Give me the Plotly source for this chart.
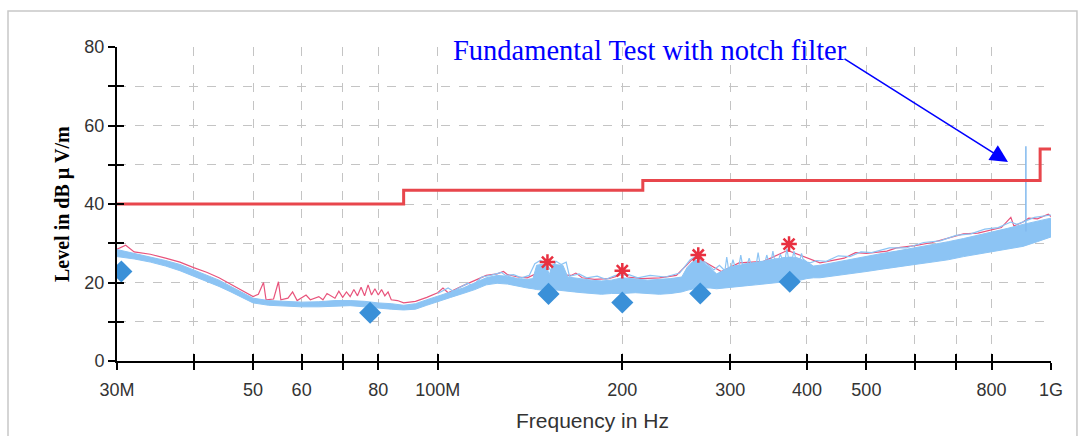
import math
import plotly.graph_objects as go

# ---------------- data (frequencies in MHz, levels in dBuV/m) ----------------
limit_f = [30, 88, 216, 960, 1000]
limit_L = [40, 43.5, 46, 54, 54]

band_f = [30, 32, 34, 36, 38, 40, 42, 44, 46, 48, 50, 53, 56, 60, 64, 68, 72, 76, 80, 84,
          88, 92, 96, 100, 105, 110, 115, 120, 125, 130, 135, 140, 143, 145, 150, 152, 154,
          160, 163, 167, 172, 178, 185, 192, 200, 210, 220, 230, 240, 250, 255, 260, 265,
          270, 278, 285, 292, 300, 310, 320, 330, 340, 350, 360, 370, 380, 390, 400,
          410, 420, 440, 460, 480, 500, 530, 560, 600, 640, 680, 720, 760, 800, 850, 900,
          950, 1000]
band_hi = [28.4, 27.4, 26.6, 25.6, 24.6, 23.2, 22.0, 20.6, 19.0, 17.4, 16.0, 15.4, 15.2, 15.0,
           15.1, 15.4, 15.4, 15.2, 14.8, 14.6, 14.2, 14.6, 15.6, 16.6, 17.6, 18.6, 20.0, 21.2,
           21.8, 21.6, 21.0, 20.8, 21.0, 24.4, 24.8, 22.0, 24.6, 24.4, 21.4, 21.2, 20.8, 20.6,
           20.4, 20.6, 21.2, 20.8, 20.6, 20.8, 21.0, 21.4, 23.8, 25.2, 25.8, 25.4, 23.8, 22.2,
           23.0, 24.0, 24.4, 24.8, 25.0, 25.4, 25.8, 26.0, 26.4, 26.4, 26.0, 25.2,
           24.2, 24.4, 25.0, 25.6, 26.2, 26.8, 27.4, 28.0, 28.8, 29.6, 30.4, 31.2, 32.0, 32.8,
           33.8, 34.8, 35.6, 36.4]
band_lo = [26.6, 26.0, 25.2, 24.2, 23.0, 21.6, 20.4, 19.0, 17.6, 16.1, 14.8, 14.2, 14.0, 13.8,
           13.8, 14.0, 14.1, 13.8, 13.4, 13.2, 13.0, 13.2, 14.2, 15.2, 16.2, 17.2, 18.2, 19.4,
           19.8, 19.6, 19.0, 18.6, 18.4, 18.2, 18.0, 18.0, 18.2, 18.0, 17.8, 17.6, 17.4, 17.2,
           17.0, 17.2, 17.2, 17.4, 17.2, 17.0, 17.2, 17.6, 18.0, 18.4, 18.6, 18.6, 18.6, 18.4,
           18.6, 18.8, 19.0, 19.2, 19.4, 19.6, 19.8, 20.0, 20.2, 20.4, 20.6, 21.0,
           21.2, 21.2, 21.6, 22.0, 22.4, 22.8, 23.4, 24.0, 24.6, 25.2, 25.8, 26.6, 27.2, 27.8,
           28.6, 29.2, 30.4, 31.6]

# light-blue spiky top of the measured trace
blue_pk_f = [100, 104, 106, 112, 114, 118, 122, 127, 129, 133, 137, 141, 144, 147, 150, 153,
             156, 159, 162, 164, 170, 175, 182, 188, 195, 205, 212, 222, 235, 248, 258, 263,
             268, 275, 282, 288,
             294, 296, 298, 301, 303, 305, 310, 312, 314, 320, 322, 324, 331, 333, 335,
             342, 344, 346, 350, 352, 354, 360, 362, 364, 369, 371, 373, 379, 381, 383,
             390, 392, 394, 400,
             405, 415, 430, 450, 470, 490, 510, 545, 580, 620, 660, 700, 740, 780, 820, 860,
             880, 940, 980, 1000]
blue_pk_L = [17.2, 18.6, 17.8, 19.8, 19.2, 21.4, 21.8, 22.6, 21.8, 22.0, 21.2, 21.8, 24.8,
             25.6, 25.0, 23.0, 25.4, 24.6, 25.2, 21.6, 22.2, 21.2, 21.6, 20.8, 21.8, 22.0,
             21.2, 21.8, 21.4, 22.4, 25.8, 26.6, 26.2, 24.8, 23.2, 24.4,
             23.0, 26.5, 23.4, 24.0, 25.8, 24.2, 24.4, 27.0, 24.6, 24.8, 26.2, 24.8,
             25.0, 27.6, 25.2, 25.4, 27.0, 25.6, 25.8, 28.0, 26.0, 26.0, 27.2, 26.2,
             26.4, 28.6, 26.4, 26.4, 28.0, 26.4, 26.0, 27.4, 26.0, 25.2,
             25.0, 25.6, 25.4, 26.8, 26.6, 27.8, 27.6, 28.8, 28.8, 30.2, 30.6, 32.0, 32.4,
             33.6, 34.0, 35.4, 34.8, 36.6, 37.0, 37.2]

# pink peak trace
peak_f = [30, 31, 32, 34, 36, 38, 40, 42, 44, 46, 48, 50, 51, 52, 52.5, 54, 55, 55.5, 57, 58,
          59, 61, 62, 64, 65, 66, 68, 69, 70, 71, 72, 73, 74, 75, 76, 77, 78, 79, 80, 81, 82,
          83, 84, 86, 88, 92, 96, 100, 102, 104, 110, 115, 120, 125, 128, 130, 135, 140, 148,
          152, 156, 165, 168, 172, 180, 190, 196, 200, 204, 215, 230, 245, 262, 270, 290, 310,
          340, 372, 390, 420, 460, 480, 500, 540, 560, 600, 640, 700, 720, 760, 800, 830, 860,
          870, 900, 920, 950, 990, 1000]
peak_L = [28.5, 29.5, 27.8, 27.2, 26.2, 25.2, 23.8, 22.6, 21.2, 19.6, 18.0, 16.4, 17.0, 20.0,
          15.6, 15.8, 20.2, 15.6, 16.0, 17.6, 15.4, 16.8, 15.6, 16.4, 15.6, 17.2, 16.0, 17.8,
          16.2, 17.6, 16.4, 18.2, 16.6, 18.8, 16.6, 19.4, 16.8, 18.4, 16.8, 18.2, 16.6, 17.6,
          15.6, 15.4, 14.8, 15.2, 16.2, 17.4, 18.6, 17.4, 19.2, 20.6, 21.8, 22.2, 22.8, 22.0,
          21.4, 21.2, 23.0, 25.0, 22.0, 21.8, 22.4, 21.2, 20.8, 21.0, 21.6, 23.2, 21.4, 21.0,
          21.2, 21.8, 26.4, 25.6, 22.8, 25.0, 25.4, 28.2, 27.0, 25.0, 26.2, 27.6, 27.4, 28.0,
          28.8, 29.4, 30.2, 31.8, 32.4, 32.6, 33.4, 34.0, 36.6, 34.4, 35.4, 36.4, 36.2, 37.4,
          36.8]

spike_f = [910, 910]
spike_L = [33.0, 54.7]

qp_f = [151, 200, 266, 374]
qp_L = [25.2, 23.0, 27.0, 29.8]

avg_f = [30.5, 77.6, 151.6, 200, 268, 375]
avg_L = [22.8, 12.3, 17.1, 14.9, 17.2, 20.2]

x_tickvals = [30, 40, 50, 60, 70, 80, 100, 200, 300, 400, 500, 600, 700, 800, 1000]
x_ticktext = ["30M", "", "50", "60", "", "80", "100M", "200", "300", "400", "500", "", "", "800", "1G"]
y_tickvals = [0, 10, 20, 30, 40, 50, 60, 70, 80]
y_ticktext = ["0", "", "20", "", "40", "", "60", "", "80"]

# ---------------- figure ----------------
LIMIT_RED = "rgb(232,70,76)"
BAND_BLUE = "rgb(140,196,244)"
PEAK_PINK = "rgb(232,84,124)"
DIAMOND_BLUE = "rgb(58,144,216)"
STAR_RED = "rgb(232,48,64)"

fig = go.Figure()

fig.add_trace(go.Scatter(x=peak_f, y=peak_L, mode="lines",
                         line=dict(color=PEAK_PINK, width=1.2), hoverinfo="skip"))
fig.add_trace(go.Scatter(x=band_f, y=band_lo, mode="lines",
                         line=dict(color=BAND_BLUE, width=1), hoverinfo="skip"))
fig.add_trace(go.Scatter(x=band_f, y=band_hi, mode="lines", fill="tonexty",
                         fillcolor=BAND_BLUE, line=dict(color=BAND_BLUE, width=1),
                         hoverinfo="skip"))
fig.add_trace(go.Scatter(x=blue_pk_f, y=blue_pk_L, mode="lines",
                         line=dict(color=BAND_BLUE, width=1.2), hoverinfo="skip"))
fig.add_trace(go.Scatter(x=spike_f, y=spike_L, mode="lines",
                         line=dict(color="rgb(130,185,238)", width=1.5), hoverinfo="skip"))
fig.add_trace(go.Scatter(x=limit_f, y=limit_L, mode="lines", line_shape="hv",
                         line=dict(color=LIMIT_RED, width=3)))
fig.add_trace(go.Scatter(x=qp_f, y=qp_L, mode="markers",
                         marker=dict(symbol="asterisk-open", size=13, color=STAR_RED,
                                     line=dict(color=STAR_RED, width=2.5))))
fig.add_trace(go.Scatter(x=avg_f, y=avg_L, mode="markers",
                         marker=dict(symbol="diamond", size=17, color=DIAMOND_BLUE)))
# helper trace (invisible) so that the overlay axes carrying the inner tick halves are drawn
fig.add_trace(go.Scatter(x=limit_f, y=limit_L, mode="lines", xaxis="x2", yaxis="y2",
                         line=dict(width=0), opacity=0, hoverinfo="skip"))

tickfont = dict(family="Liberation Sans, Arial, sans-serif", size=18, color="#333333")
xr = [math.log10(30), math.log10(1000)]

fig.update_layout(
    width=1080, height=436,
    margin=dict(l=117, r=29, t=47, b=75),
    paper_bgcolor="white", plot_bgcolor="white",
    showlegend=False,
    xaxis=dict(type="log", range=xr, tickmode="array", tickvals=x_tickvals,
               ticktext=x_ticktext, ticks="outside", ticklen=7, tickwidth=2,
               tickcolor="black", showline=True, linecolor="black", linewidth=2,
               showgrid=True, gridcolor="#c4c4c4", griddash="dash", gridwidth=1,
               zeroline=False, tickfont=tickfont, ticklabelstandoff=4),
    yaxis=dict(range=[0, 80], tickmode="array", tickvals=y_tickvals, ticktext=y_ticktext,
               ticks="outside", ticklen=7, tickwidth=2, tickcolor="black",
               showline=True, linecolor="black", linewidth=2,
               showgrid=True, gridcolor="#c4c4c4", griddash="dash", gridwidth=1,
               zeroline=False, tickfont=tickfont),
    xaxis2=dict(type="log", range=xr, overlaying="x", anchor="y", side="bottom",
                tickmode="array", tickvals=x_tickvals, ticks="inside", ticklen=7,
                tickwidth=2, tickcolor="black", showticklabels=False, showgrid=False,
                showline=False, zeroline=False),
    yaxis2=dict(range=[0, 80], overlaying="y", anchor="x", side="left",
                tickmode="array", tickvals=y_tickvals, ticks="inside", ticklen=7,
                tickwidth=2, tickcolor="black", showticklabels=False, showgrid=False,
                showline=False, zeroline=False),
)

# outer frame
fig.add_shape(type="rect", xref="paper", yref="paper",
              x0=-0.1167, x1=1.0278, y0=-0.26, y1=1.1146,
              line=dict(color="#c8c8c8", width=1.5), layer="below")

# axis titles
fig.add_annotation(text="Level in dB µ V/m", xref="paper", yref="paper",
                   x=-0.0589, y=0.5, xanchor="center", yanchor="middle", textangle=-90,
                   showarrow=False,
                   font=dict(family="Liberation Serif, Times New Roman, serif", size=20,
                             color="black", weight="bold"),
                   bgcolor="white")
fig.add_annotation(text="Frequency in Hz", xref="paper", yref="paper",
                   x=0.509, y=-0.146, xanchor="center", yanchor="top", showarrow=False,
                   font=dict(family="Liberation Sans, Arial, sans-serif", size=21,
                             color="#333333"))

# note + arrow
fig.add_annotation(text="Fundamental Test with notch filter", xref="x", yref="y",
                   x=math.log10(222), y=79.0, xanchor="center", yanchor="middle",
                   showarrow=False,
                   font=dict(family="Liberation Serif, Times New Roman, serif", size=28.5,
                             color="#0000ff"))
fig.add_annotation(text="", xref="x", yref="y", axref="x", ayref="y",
                   x=math.log10(851), y=50.7, ax=math.log10(458), ay=77.2,
                   showarrow=True, arrowhead=2, arrowsize=2.2, arrowwidth=1.6,
                   arrowcolor="#0000ff")

fig.write_html("out.html", config={"displayModeBar": False},
               post_script="document.body.style.margin='0';")
